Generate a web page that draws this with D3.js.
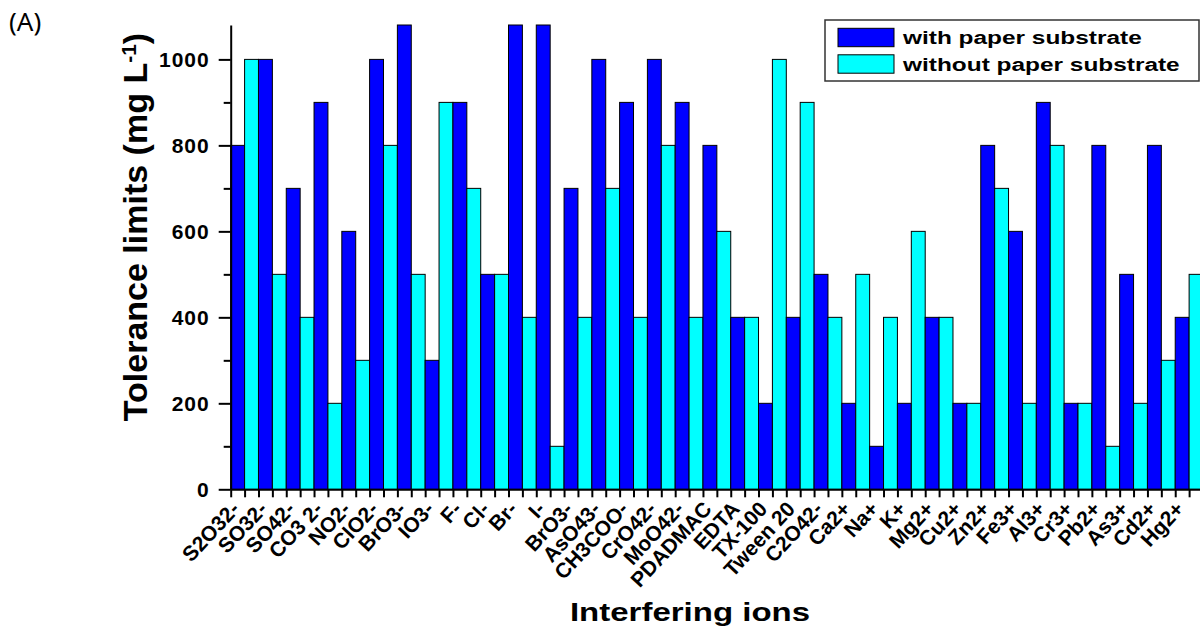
<!DOCTYPE html>
<html>
<head>
<meta charset="utf-8">
<script src="https://cdn.jsdelivr.net/npm/d3@7"></script>
<style>
  body { margin: 0; background: #fff; }
  text { font-family: "Liberation Sans", Arial, sans-serif; font-weight: bold; fill: #000; }
</style>
</head>
<body>
<script>
// ions on the x axis (BrO3- appears twice in the original)
const categories = ["S2O32-", "SO32-", "SO42-", "CO3 2-", "NO2-", "ClO2-", "BrO3-", "IO3-", "F-", "Cl-",
  "Br-", "I-", "BrO3-", "AsO43-", "CH3COO-", "CrO42-", "MoO42-", "PDADMAC", "EDTA", "TX-100",
  "Tween 20", "C2O42-", "Ca2+", "Na+", "K+", "Mg2+", "Cu2+", "Zn2+", "Fe3+", "Al3+",
  "Cr3+", "Pb2+", "As3+", "Cd2+", "Hg2+"];

// tolerance limits, mg/L (bars hitting the top of the frame read as 1080)
const withPaper = [800, 1000, 700, 900, 600, 1000, 1080, 300, 900, 500,
  1080, 1080, 700, 1000, 900, 1000, 900, 800, 400, 200,
  400, 500, 200, 100, 200, 400, 200, 800, 600, 900,
  200, 800, 500, 800, 400];
const withoutPaper = [1000, 500, 400, 200, 300, 800, 500, 900, 700, 500,
  400, 100, 400, 700, 400, 800, 400, 600, 400, 1000,
  900, 400, 500, 400, 600, 400, 200, 700, 200, 800,
  200, 100, 200, 300, 500];

const seriesNames = ["with paper substrate", "without paper substrate"];
const seriesColors = ["#0000ff", "#00ffff"];
const majorTicks = [0, 200, 400, 600, 800, 1000];
const minorTicks = [100, 300, 500, 700, 900];
const yMax = 1080;

const width = 1200;
const height = 626;
const plotLeft = 230.7, plotTop = 25, plotBottom = 489.3;
const barW = 13.89;

const svg = d3.select("body").append("svg")
  .attr("width", width)
  .attr("height", height);

// index-based band so the repeated label keeps its own slot
const idx = d3.range(categories.length);

const x = d3.scaleBand()
  .domain(idx)
  .range([plotLeft, plotLeft + categories.length * 2 * barW])
  .padding(0);

const xSub = d3.scaleBand()
  .domain(seriesNames)
  .range([0, x.bandwidth()])
  .padding(0);

const y = d3.scaleLinear()
  .domain([0, yMax])
  .range([plotBottom, plotTop]);

const color = d3.scaleOrdinal().domain(seriesNames).range(seriesColors);

// bars
svg.append("g")
  .selectAll("g")
  .data(idx)
  .join("g")
  .attr("transform", i => `translate(${x(i)},0)`)
  .selectAll("rect")
  .data(i => [
    { key: seriesNames[0], value: withPaper[i] },
    { key: seriesNames[1], value: withoutPaper[i] }
  ])
  .join("rect")
  .attr("x", d => xSub(d.key))
  .attr("y", d => y(d.value))
  .attr("width", xSub.bandwidth())
  .attr("height", d => y(0) - y(d.value))
  .attr("fill", d => color(d.key))
  .attr("stroke", "#000")
  .attr("stroke-width", 1);

// x axis: a tick at every bar edge
const xBars = d3.scaleLinear()
  .domain([0, categories.length * 2])
  .range(x.range());

const xAxis = svg.append("g")
  .attr("transform", `translate(0,${plotBottom})`)
  .call(d3.axisBottom(xBars)
    .tickValues(d3.range(0, categories.length * 2 + 1))
    .tickSize(8)
    .tickSizeOuter(0)
    .tickFormat(""));
xAxis.selectAll("path, line").attr("stroke", "#000").attr("stroke-width", 2);

svg.append("g")
  .selectAll("text")
  .data(idx)
  .join("text")
  .attr("transform", i => `translate(${x(i) + 10},510) rotate(-47)`)
  .attr("text-anchor", "end")
  .style("font-size", "21px")
  .text(i => categories[i]);

// y axis
const yAxis = svg.append("g")
  .attr("transform", `translate(${plotLeft},0)`)
  .call(d3.axisLeft(y)
    .tickValues(majorTicks)
    .tickSize(12)
    .tickPadding(9)
    .tickSizeOuter(0)
    .tickFormat(d3.format("d")));
yAxis.selectAll("path, line").attr("stroke", "#000").attr("stroke-width", 2);
yAxis.selectAll("text")
  .style("font-size", "21px")
  .style("letter-spacing", "1px")
  .attr("fill", "#000");

const yMinor = svg.append("g")
  .attr("transform", `translate(${plotLeft},0)`)
  .call(d3.axisLeft(y)
    .tickValues(minorTicks)
    .tickSize(7)
    .tickFormat(""));
yMinor.select(".domain").remove();
yMinor.selectAll("line").attr("stroke", "#000").attr("stroke-width", 2);

// axis titles
const yTitle = svg.append("text")
  .attr("transform", "translate(147,227) rotate(-90)")
  .attr("text-anchor", "middle")
  .style("font-size", "34px");
yTitle.append("tspan").text("Tolerance limits (mg L");
yTitle.append("tspan").attr("baseline-shift", "super").style("font-size", "21px").text("-1");
yTitle.append("tspan").text(")");

svg.append("text")
  .attr("transform", "translate(690,620.7) scale(1.32,1)")
  .attr("text-anchor", "middle")
  .style("font-size", "25px")
  .text("Interfering ions");

// legend
const legend = svg.append("g");
legend.append("rect")
  .attr("x", 825).attr("y", 20)
  .attr("width", 374).attr("height", 61)
  .attr("fill", "#fff")
  .attr("stroke", "#333")
  .attr("stroke-width", 1.5);

const legendItem = legend.selectAll("g.item")
  .data(seriesNames)
  .join("g")
  .attr("class", "item")
  .attr("transform", (d, i) => `translate(838,${28.3 + i * 26.5})`);
legendItem.append("rect")
  .attr("width", 56).attr("height", 18.4)
  .attr("fill", d => color(d))
  .attr("stroke", "#000")
  .attr("stroke-width", 1);
legendItem.append("text")
  .attr("transform", "translate(65,16) scale(1.32,1)")
  .style("font-size", "18.5px")
  .text(d => d);

// panel label
svg.append("text")
  .attr("x", 9).attr("y", 31)
  .style("font-family", "'Noto Sans', sans-serif")
  .style("font-weight", "normal")
  .style("font-size", "26px")
  .text("(A)");
</script>
</body>
</html>
